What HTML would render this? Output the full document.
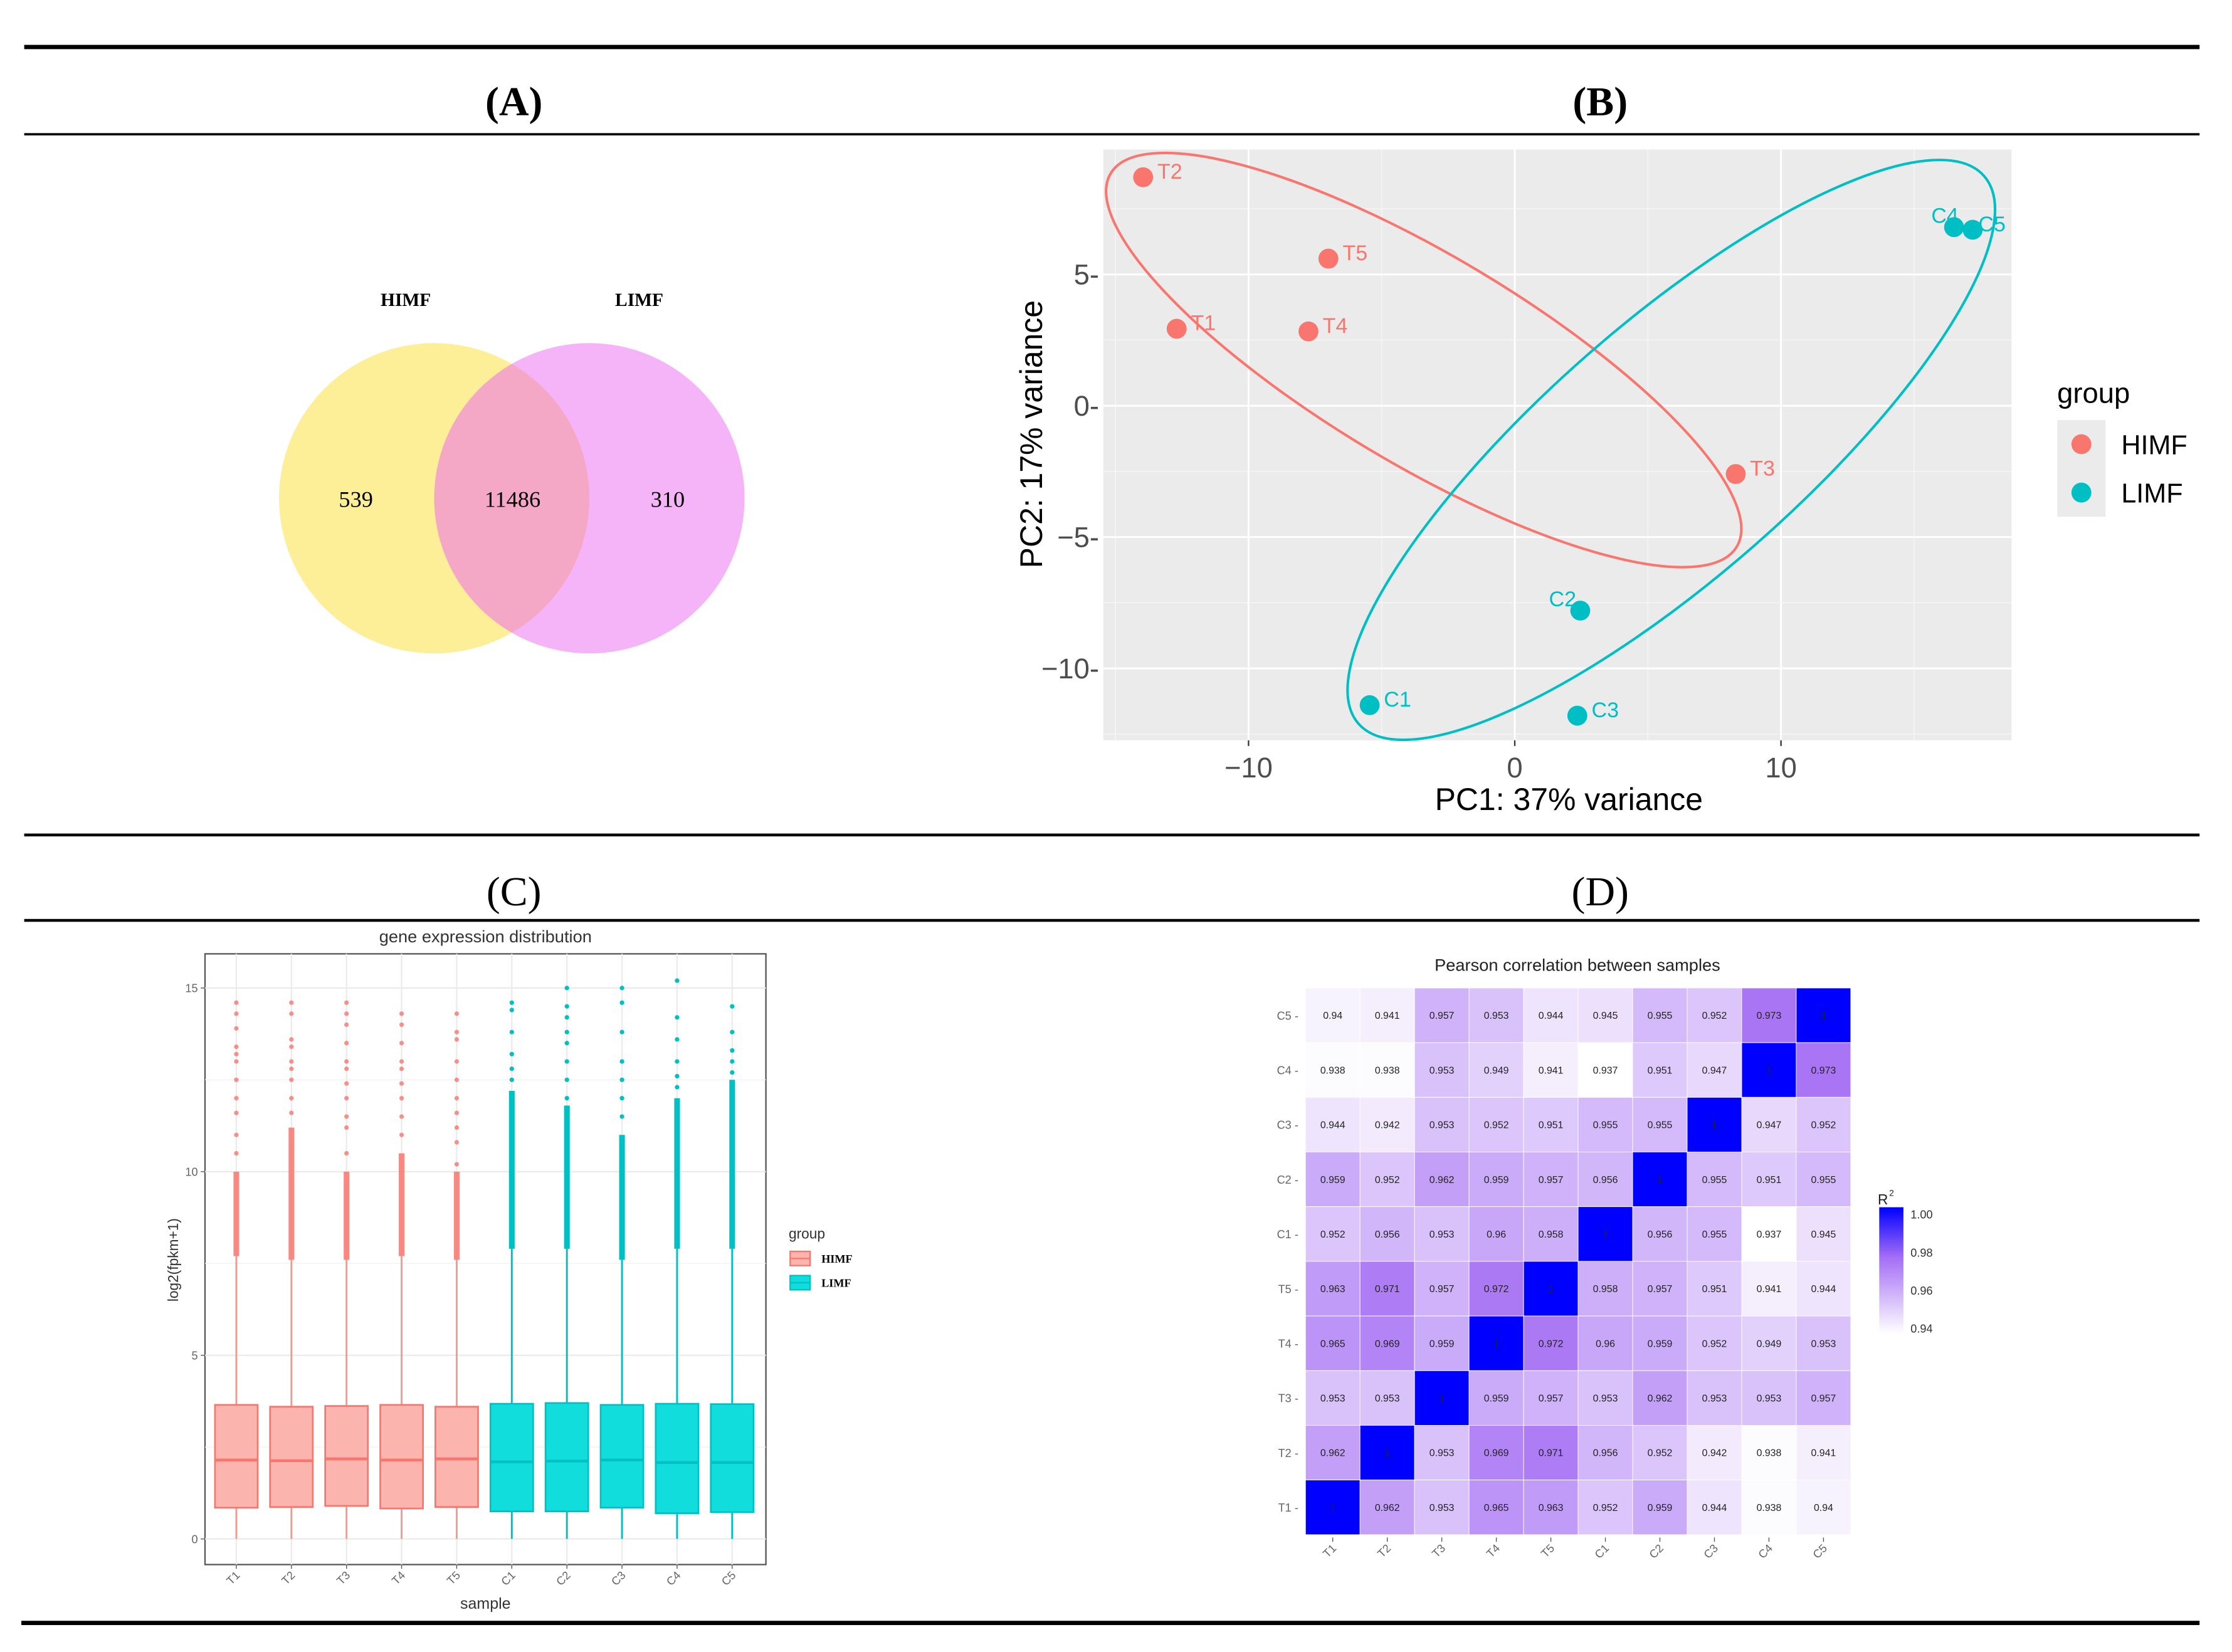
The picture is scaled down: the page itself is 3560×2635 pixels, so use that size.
<!DOCTYPE html>
<html><head><meta charset="utf-8"><style>
html,body{margin:0;padding:0;background:#fff}
svg{display:block}
</style></head><body>
<svg id="root" xmlns="http://www.w3.org/2000/svg" width="3560" height="2635" viewBox="0 0 1567.8 1160.4">
<rect x="0" y="0" width="1570" height="1162" fill="#fff"/>
<g>
<rect x="17" y="31.5" width="1528" height="3" fill="#000"/>
<rect x="17" y="93.5" width="1528" height="1.6" fill="#000"/>
<rect x="17" y="585.5" width="1528" height="2" fill="#000"/>
<rect x="17" y="645.5" width="1528" height="2" fill="#000"/>
<rect x="15" y="1138.5" width="1530" height="3" fill="#000"/>
</g>
<g font-family="Liberation Serif, serif" font-size="29" text-anchor="middle" fill="#000">
<text x="361" y="81" font-weight="bold">(A)</text>
<text x="1124" y="81" font-weight="bold">(B)</text>
<text x="361" y="636">(C)</text>
<text x="1124" y="636">(D)</text>
</g>
<g id="venn"></g>
<g id="pca"></g>
<g id="box"></g>
<g id="heat"></g>
</svg>
<script>
// ---------- data ----------
const vennSets = ["HIMF","LIMF"];
const vennCounts = [539, 11486, 310];

const pcaSamples = ["T1","T2","T3","T4","T5","C1","C2","C3","C4","C5"];
const pcaGroup = ["HIMF","HIMF","HIMF","HIMF","HIMF","LIMF","LIMF","LIMF","LIMF","LIMF"];
const pcaPC1 = [-12.7,-13.96,8.3,-7.75,-7.0,-5.45,2.46,2.35,16.5,17.2];
const pcaPC2 = [2.93,8.7,-2.6,2.83,5.6,-11.4,-7.8,-11.8,6.8,6.7];
const pcaXTicks = [-10,0,10];
const pcaYTicks = [5,0,-5,-10];

const boxSamples = ["T1","T2","T3","T4","T5","C1","C2","C3","C4","C5"];
const boxQ1 = [0.85,0.87,0.9,0.83,0.87,0.75,0.75,0.85,0.7,0.73];
const boxMed = [2.15,2.13,2.18,2.15,2.18,2.1,2.12,2.15,2.08,2.08];
const boxQ3 = [3.65,3.6,3.62,3.65,3.6,3.68,3.7,3.65,3.68,3.67];
const boxWhiskHi = [7.7,7.6,7.6,7.7,7.6,7.9,7.9,7.6,7.9,7.9];
const boxDenseTop = [10.0,11.2,10.0,10.5,10.0,12.2,11.8,11.0,12.0,12.5];
const boxOutliers = [
 [10.5,11.0,11.6,12.0,12.5,13.0,13.2,13.4,13.9,14.3,14.6],
 [11.6,12.0,12.5,12.8,13.0,13.4,13.6,14.3,14.6],
 [10.5,11.2,11.5,12.0,12.4,12.8,13.0,13.5,14.0,14.3,14.6],
 [11.0,11.5,12.0,12.4,12.8,13.0,13.5,14.0,14.3],
 [10.2,10.8,11.2,11.6,12.0,12.5,13.0,13.6,13.8,14.3],
 [12.5,12.8,13.2,13.8,14.4,14.6],
 [12.0,12.5,13.0,13.5,13.8,14.2,14.5,15.0],
 [11.5,12.0,12.5,13.0,13.8,14.6,15.0],
 [12.3,12.6,13.0,13.6,14.2,15.2],
 [12.7,13.0,13.3,13.8,14.5]
];
const boxYTicks = [0,5,10,15];

const heatRows = ["C5","C4","C3","C2","C1","T5","T4","T3","T2","T1"];
const heatCols = ["T1","T2","T3","T4","T5","C1","C2","C3","C4","C5"];
const heatC5 = [0.94,0.941,0.957,0.953,0.944,0.945,0.955,0.952,0.973,1];
const heatC4 = [0.938,0.938,0.953,0.949,0.941,0.937,0.951,0.947,1,0.973];
const heatC3 = [0.944,0.942,0.953,0.952,0.951,0.955,0.955,1,0.947,0.952];
const heatC2 = [0.959,0.952,0.962,0.959,0.957,0.956,1,0.955,0.951,0.955];
const heatC1 = [0.952,0.956,0.953,0.96,0.958,1,0.956,0.955,0.937,0.945];
const heatT5 = [0.963,0.971,0.957,0.972,1,0.958,0.957,0.951,0.941,0.944];
const heatT4 = [0.965,0.969,0.959,1,0.972,0.96,0.959,0.952,0.949,0.953];
const heatT3 = [0.953,0.953,1,0.959,0.957,0.953,0.962,0.953,0.953,0.957];
const heatT2 = [0.962,1,0.953,0.969,0.971,0.956,0.952,0.942,0.938,0.941];
const heatT1 = [1,0.962,0.953,0.965,0.963,0.952,0.959,0.944,0.938,0.94];
const heatLegendTicks = [1.00,0.98,0.96,0.94];

// ---------- helpers ----------
const NS="http://www.w3.org/2000/svg";
function mk(parent,tag,attrs,text){const e=document.createElementNS(NS,tag);for(const k in attrs)e.setAttribute(k,attrs[k]);if(text!==undefined)e.textContent=text;parent.appendChild(e);return e;}
const SANS="Liberation Sans, DejaVu Sans, sans-serif", SERIF="Liberation Serif, serif";

// ---------- Venn ----------
(function(){
 const g=document.getElementById('venn');
 const c1=mk(g,'ellipse',{cx:305,cy:350,rx:109,ry:109,fill:'#fdee98'});
 
 
 const c2=mk(g,'ellipse',{cx:414,cy:350,rx:109,ry:109,fill:'#f5b4f8'});
 
 
 const cp=mk(g,'clipPath',{id:'vclip'});mk(cp,'ellipse',{cx:305,cy:350,rx:109,ry:109});
 const ov=mk(g,'ellipse',{cx:414,cy:350,rx:109,ry:109,fill:'#f5a8c5','clip-path':'url(#vclip)'});
 
 
 const sx=[285,449];
 vennSets.forEach((s,i)=>{const t=mk(g,'text',{x:sx[i],y:215,'font-family':SERIF,'font-weight':'bold','font-size':13,'text-anchor':'middle'},s);
  
  });
 const cx=[250,360,469];
 vennCounts.forEach((v,i)=>{const t=mk(g,'text',{x:cx[i],y:356,'font-family':SERIF,'font-size':16,'text-anchor':'middle'},String(v));
  
  });
})();

// ---------- PCA ----------
(function(){
 const g=document.getElementById('pca');
 const X=v=>1064+v*18.7, Y=v=>285-v*18.45;
 const L=775,R=1413,T=105,B=520;
 const bg=mk(g,'rect',{x:L,y:T,width:R-L,height:B-T,fill:'#ebebeb'});
 
 
 [-15,-5,5,15].forEach(v=>{if(X(v)>L&&X(v)<R)mk(g,'line',{x1:X(v),x2:X(v),y1:T,y2:B,stroke:'#f7f7f7','stroke-width':0.6});});
 [7.5,2.5,-2.5,-7.5,-12.5].forEach(v=>mk(g,'line',{x1:L,x2:R,y1:Y(v),y2:Y(v),stroke:'#f7f7f7','stroke-width':0.6}));
 pcaXTicks.forEach(v=>{mk(g,'line',{x1:X(v),x2:X(v),y1:T,y2:B,stroke:'#fff','stroke-width':1.3});
  mk(g,'line',{x1:X(v),x2:X(v),y1:B,y2:B+4,stroke:'#333','stroke-width':1});
  const t=mk(g,'text',{x:X(v),y:B+26,'font-family':SANS,'font-size':20,'text-anchor':'middle',fill:'#4d4d4d'},v<0?'\u2212'+Math.abs(v):String(v));
  
  });
 pcaYTicks.forEach(v=>{mk(g,'line',{x1:L,x2:R,y1:Y(v),y2:Y(v),stroke:'#fff','stroke-width':1.3});
  const t=mk(g,'text',{x:L-3,y:Y(v)+7,'font-family':SANS,'font-size':20,'text-anchor':'end',fill:'#4d4d4d'},(v<0?'\u2212'+Math.abs(v):String(v))+'-');
  
  });
 const ellCx=[-3.42,5.88], ellCy=[1.74,-1.68], ellA=[256,292], ellB=[73.5,89], ellAng=[30.8,-41.2];
 const ellCol=['#f8766d','#00bfc4'];
 for(let i=0;i<2;i++){const e=mk(g,'ellipse',{cx:X(ellCx[i]),cy:Y(ellCy[i]),rx:ellA[i],ry:ellB[i],fill:'none',stroke:ellCol[i],'stroke-width':1.8,transform:`rotate(${ellAng[i]} ${X(ellCx[i])} ${Y(ellCy[i])})`});
  
  }
 const lblOff={C4:[-16,-8],C2:[-22,-8],C5:[4,-4]};
 pcaSamples.forEach((s,i)=>{const col=pcaGroup[i]==='HIMF'?'#f8766d':'#00bfc4';
  const c=mk(g,'circle',{cx:X(pcaPC1[i]),cy:Y(pcaPC2[i]),r:7,fill:col});
  
  
  const o=lblOff[s]||[10,-4];
  const t=mk(g,'text',{x:X(pcaPC1[i])+o[0],y:Y(pcaPC2[i])+o[1]+5,'font-family':SANS,'font-size':15,fill:col},s);
  
  });
 let t=mk(g,'text',{x:1102,y:569,'font-family':SANS,'font-size':22,'text-anchor':'middle'},'PC1: 37% variance');
 
 
 t=mk(g,'text',{x:0,y:0,'font-family':SANS,'font-size':22,'text-anchor':'middle',transform:'translate(732,305) rotate(-90)'},'PC2: 17% variance');
 
 
 t=mk(g,'text',{x:1445,y:283,'font-family':SANS,'font-size':20},'group');
 
 
 mk(g,'rect',{x:1445,y:295,width:34,height:68,fill:'#ebebeb'});
 ['HIMF','LIMF'].forEach((s,i)=>{const c=mk(g,'circle',{cx:1462,cy:312+i*34,r:7,fill:i?'#00bfc4':'#f8766d'});
  
  
  const tt=mk(g,'text',{x:1490,y:319+i*34,'font-family':SANS,'font-size':19},s);
  
  });
})();

// ---------- Boxplot ----------
(function(){
 const g=document.getElementById('box');
 const L=144,R=538,T=670,B=1099;
 const Y=v=>1081-v*25.8, X=i=>166+i*38.7;
 mk(g,'rect',{x:L,y:T,width:R-L,height:B-T,fill:'#fff',stroke:'#555','stroke-width':1});
 [2.5,7.5,12.5].forEach(v=>mk(g,'line',{x1:L,x2:R,y1:Y(v),y2:Y(v),stroke:'#f2f2f2','stroke-width':0.6}));
 boxYTicks.forEach(v=>{mk(g,'line',{x1:L,x2:R,y1:Y(v),y2:Y(v),stroke:'#ebebeb','stroke-width':1});
  mk(g,'line',{x1:L-3,x2:L,y1:Y(v),y2:Y(v),stroke:'#555','stroke-width':0.6});
  const t=mk(g,'text',{x:L-5,y:Y(v)+3,'font-family':SANS,'font-size':8,'text-anchor':'end',fill:'#666'},String(v));
  
  });
 boxSamples.forEach((s,i)=>{const x=X(i);mk(g,'line',{x1:x,x2:x,y1:T,y2:B,stroke:'#ebebeb','stroke-width':1});});
 boxSamples.forEach((s,i)=>{const x=X(i),H=i<5;const sc=H?'#f8766d':'#00c0c4',fc=H?'#fbb5ae':'#12dddd';
  const bg=mk(g,'g',{});
  
  
  mk(bg,'line',{x1:x,x2:x,y1:Y(0),y2:Y(boxWhiskHi[i]),stroke:sc,'stroke-width':1.3,opacity:H?0.7:1});
  mk(bg,'rect',{x:x-2,y:Y(boxDenseTop[i]),width:4,height:Y(boxWhiskHi[i])-Y(boxDenseTop[i]),fill:sc,opacity:H?0.85:1});
  boxOutliers[i].forEach(v=>mk(bg,'circle',{cx:x,cy:Y(v),r:1.6,fill:sc,opacity:H?0.8:1}));
  mk(bg,'rect',{x:x-15,y:Y(boxQ3[i]),width:30,height:Y(boxQ1[i])-Y(boxQ3[i]),fill:fc,stroke:sc,'stroke-width':1.2});
  mk(bg,'line',{x1:x-15,x2:x+15,y1:Y(boxMed[i]),y2:Y(boxMed[i]),stroke:sc,'stroke-width':2});
  mk(g,'line',{x1:x,x2:x,y1:B,y2:B+3,stroke:'#555','stroke-width':0.6});
  const t=mk(g,'text',{x:0,y:0,'font-family':SANS,'font-size':8,'text-anchor':'end',fill:'#666',transform:`translate(${x+3},${B+8}) rotate(-45)`},s);
  
  });
 let t=mk(g,'text',{x:341,y:662,'font-family':SANS,'font-size':12,'text-anchor':'middle',fill:'#333'},'gene expression distribution');
 
 
 t=mk(g,'text',{x:341,y:1130,'font-family':SANS,'font-size':11,'text-anchor':'middle',fill:'#333'},'sample');
 
 
 t=mk(g,'text',{x:0,y:0,'font-family':SANS,'font-size':10,'text-anchor':'middle',fill:'#333',transform:'translate(125,885) rotate(-90)'},'log2(fpkm+1)');
 
 
 t=mk(g,'text',{x:554,y:870,'font-family':SANS,'font-size':10,fill:'#333'},'group');
 
 
 ['HIMF','LIMF'].forEach((s,i)=>{const y=884+i*17;
  const k=mk(g,'rect',{x:555,y:y-5,width:14,height:10,fill:i?'#12dddd':'#fbb5ae',stroke:i?'#00c0c4':'#f8766d','stroke-width':1});
  
  
  mk(g,'line',{x1:555,x2:569,y1:y,y2:y,stroke:i?'#00c0c4':'#f8766d','stroke-width':1});
  const tt=mk(g,'text',{x:577,y:y+3,'font-family':SERIF,'font-weight':'bold','font-size':8},s);
  
  });
})();

// ---------- Heatmap ----------
(function(){
 const g=document.getElementById('heat');
 const rowsData=[heatC5,heatC4,heatC3,heatC2,heatC1,heatT5,heatT4,heatT3,heatT2,heatT1];
 const L=917,T=694,cw=38.3,ch=38.4;
 function col(v){const lo=0.937,mid=0.975;let r,gg,b;
  if(v<=mid){const t=Math.max(0,(v-lo)/(mid-lo));r=255+(165-255)*t;gg=255+(110-255)*t;b=255+(245-255)*t;}
  else{const t=Math.min(1,(v-mid)/(1-mid));r=165*(1-t);gg=110*(1-t);b=245+10*t;}
  return `rgb(${r|0},${gg|0},${b|0})`;}
 rowsData.forEach((row,ri)=>{row.forEach((v,ci)=>{
  const r=mk(g,'rect',{x:L+ci*cw,y:T+ri*ch,width:cw,height:ch,fill:col(v),stroke:'#fff','stroke-width':0.4});
  
  
  const t=mk(g,'text',{x:L+ci*cw+cw/2,y:T+ri*ch+ch/2+2.5,'font-family':SANS,'font-size':7,'text-anchor':'middle',fill:'#222'},String(v));
  
  });
  const t=mk(g,'text',{x:L-5,y:T+ri*ch+ch/2+3,'font-family':SANS,'font-size':8,'text-anchor':'end',fill:'#666'},heatRows[ri]+' -');
  
  });
 heatCols.forEach((c,ci)=>{const x=L+ci*cw+cw/2;
  mk(g,'line',{x1:x,x2:x,y1:T+10*ch+2,y2:T+10*ch+5,stroke:'#555','stroke-width':0.6});
  const t=mk(g,'text',{x:0,y:0,'font-family':SANS,'font-size':8,'text-anchor':'end',fill:'#666',transform:`translate(${x+3},${T+10*ch+10}) rotate(-45)`},c);
  
  });
 let t=mk(g,'text',{x:1108,y:682,'font-family':SANS,'font-size':12,'text-anchor':'middle',fill:'#222'},'Pearson correlation between samples');
 
 
 const gr=mk(g,'linearGradient',{id:'hgrad',x1:0,y1:1,x2:0,y2:0});
 [0.937,0.95,0.96,0.97,0.975,0.985,1].forEach(v=>mk(gr,'stop',{offset:(v-0.937)/0.063,'stop-color':col(v)}));
 const CY=v=>853+(1-v)/0.06*80;
 const cb=mk(g,'rect',{x:1320,y:CY(1.0)-5,width:17,height:CY(0.937)-CY(1.0)+5,fill:'url(#hgrad)'});
 
 
 heatLegendTicks.forEach(v=>{const tt=mk(g,'text',{x:1342,y:CY(v)+3,'font-family':SANS,'font-size':8,fill:'#333'},v.toFixed(2));
  
  });
 t=mk(g,'text',{x:1319,y:846,'font-family':SANS,'font-size':10,fill:'#222'},'R');
 
 
 mk(g,'text',{x:1327,y:840,'font-family':SANS,'font-size':6,fill:'#222'},'2');
})();
</script>
</body></html>
